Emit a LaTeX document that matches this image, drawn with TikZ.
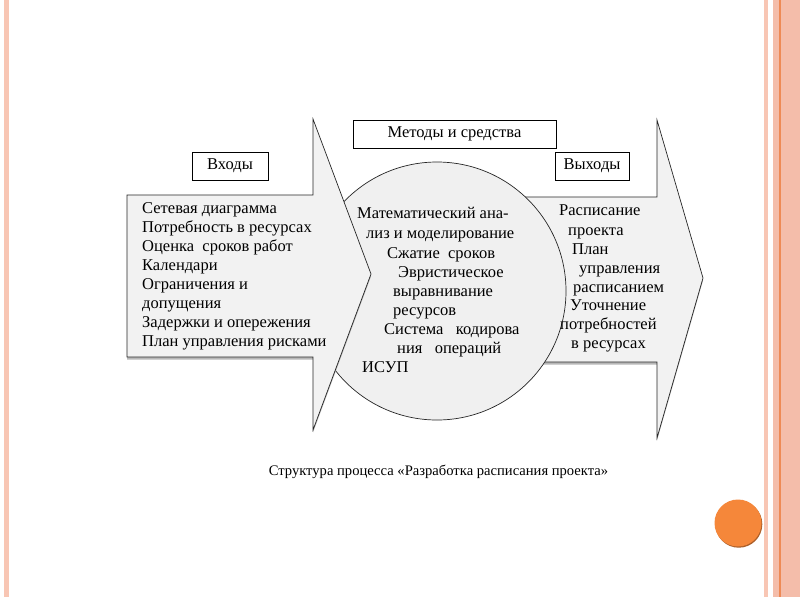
\documentclass[tikz,border=0pt]{standalone}
\usepackage{fontspec}
\setmainfont{Liberation Serif}
\usetikzlibrary{shadows}
\definecolor{shapefill}{HTML}{F2F2F2}
\definecolor{circfill}{HTML}{F0F0F0}
\definecolor{stripe}{HTML}{F8C6B4}
\definecolor{band}{HTML}{F4BDAA}
\definecolor{bandline}{HTML}{EE8A55}
\definecolor{dot}{HTML}{F5873A}
\begin{document}
\begin{tikzpicture}[x=1pt,y=-1pt,
  bigshape/.style={draw=black!85, line width=0.7pt, fill=shapefill, line join=miter},
  shadowed/.style={drop shadow={shadow xshift=0pt, shadow yshift=-2.5pt, fill=black!40, opacity=0.7}},
  labelbox/.style={draw=black, line width=0.7pt, fill=white, inner sep=0pt, font=\fontsize{16.5}{19}\selectfont},
  txt/.style={anchor=base west, inner sep=0pt, font=\fontsize{16.5}{19}\selectfont}]
\useasboundingbox (0,0) rectangle (800,600);
\fill[white] (0,0) rectangle (800,600);
% decorative stripes
\fill[stripe] (4,0) rectangle (9,597);
\fill[stripe] (764,0) rectangle (768,597);
\fill[band] (773,0) rectangle (800,597);
\draw[bandline, line width=1.4pt] (780,0) -- (780,597);
\fill[black!30!dot] (738.8,524.2) circle (23.5);
\fill[dot] (738,523) circle (23.5);
% right arrow
\path[bigshape, shadowed] (470,197) -- (657,197) -- (657,120) -- (703,278) -- (657,438) -- (657,362) -- (470,362) -- cycle;
% circle
\node[circle, draw=black!85, line width=0.7pt, fill=circfill, minimum size=258pt, inner sep=0pt] (circ) at (437,291) {};
% left arrow
\path[bigshape, shadowed] (127,195) -- (313,195) -- (313,119) -- (371,274) -- (313,430) -- (313,357) -- (127,357) -- cycle;
% label boxes
\node[labelbox, minimum width=76pt, minimum height=28pt] (inbox) at (230,166) {Входы};
\node[labelbox, minimum width=203pt, minimum height=28pt] (methbox) at (454.5,134) {Методы и средства};
\node[labelbox, minimum width=74pt, minimum height=28pt] (outbox) at (592,166) {Выходы};
% inputs
\node[txt] (i1) at (142,213) {Сетевая диаграмма};
\node[txt] (i2) at (142,232) {Потребность в ресурсах};
\node[txt] (i3) at (142,251) {Оценка\ \ сроков работ};
\node[txt] (i4) at (142,270) {Календари};
\node[txt] (i5) at (142,289) {Ограничения и};
\node[txt] (i6) at (142,308) {допущения};
\node[txt] (i7) at (142,327) {Задержки и опережения};
\node[txt] (i8) at (142,346) {План управления рисками};
% methods
\node[txt] (m1) at (357,218) {Математический ана-};
\node[txt] (m2) at (366,238) {лиз и моделирование};
\node[txt] (m3) at (387,258) {Сжатие\ \ сроков};
\node[txt] (m4) at (398,277) {Эвристическое};
\node[txt] (m5) at (393,296) {выравнивание};
\node[txt] (m6) at (393,315) {ресурсов};
\node[txt] (m7) at (384,334) {Система\ \ \ кодирова};
\node[txt] (m8) at (397,353) {ния\ \ \ операций};
\node[txt] (m9) at (362,372) {ИСУП};
% outputs
\node[txt] (o1) at (559,215) {Расписание};
\node[txt] (o2) at (568,235) {проекта};
\node[txt] (o3) at (572,254) {План};
\node[txt] (o4) at (579,273) {управления};
\node[txt] (o5) at (573,292) {расписанием};
\node[txt] (o6) at (570,310) {Уточнение};
\node[txt] (o7) at (560,329) {потребностей};
\node[txt] (o8) at (571,348) {в ресурсах};
% caption
\node[anchor=base, inner sep=0pt, font=\fontsize{14.6}{17}\selectfont] (cap) at (438.5,475) {Структура процесса «Разработка расписания проекта»};
\end{tikzpicture}
\end{document}
